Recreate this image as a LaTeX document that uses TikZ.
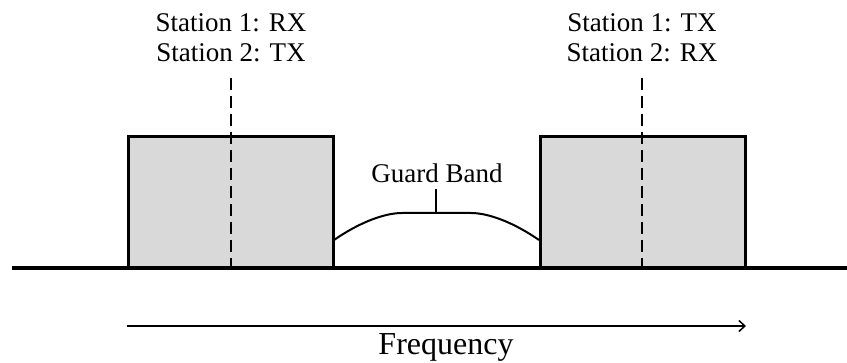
\documentclass[tikz,border=0pt]{standalone}
\usepackage{fontspec}
\setmainfont{Liberation Serif}
\usetikzlibrary{arrows.meta}
\definecolor{bandgray}{HTML}{D9D9D9}
\tikzset{
  band/.style={draw=black, line width=3pt, fill=bandgray},
  centerline/.style={line width=1.5pt, dash pattern=on 12pt off 6pt},
  label/.style={font=\fontsize{27}{30}\selectfont, align=center, inner sep=0pt},
  axis/.style={line width=3.5pt},
}
\begin{document}
\begin{tikzpicture}[x=1pt,y=-1pt]
\useasboundingbox (0,0) rectangle (847,363);
% bands
\draw[band] (128,137) rectangle (333,268);
\draw[band] (540,137) rectangle (745,268);
\coordinate (lb) at (231,268);
\coordinate (rb) at (642,268);
\coordinate (lt) at (231,78);
\coordinate (rt) at (642,78);
\draw[centerline] (lt) -- (lb);
\draw[centerline] (rt) -- (rb);
% labels
\node[label, anchor=base] (l1) at (231,32) {Station 1: RX};
\node[label, anchor=base] (l2) at (231,62) {Station 2: TX};
\node[label, anchor=base] (r1) at (642,32) {Station 1: TX};
\node[label, anchor=base] (r2) at (642,62) {Station 2: RX};
% guard band
\coordinate (gl) at (334,240);
\coordinate (gr) at (539,240);
\coordinate (ga) at (402,213);
\coordinate (gb) at (471,213);
\coordinate (gt) at (436,213);
\coordinate (gtop) at (436,189);
\draw[line width=2pt] (gl) .. controls (360,222) and (385,213) .. (ga) -- (gb) .. controls (488,213) and (513,222) .. (gr);
\node[label, anchor=base] (gband) at (437,183) {Guard Band};
\draw[line width=2pt] (gt) -- (gtop);
% axis
\coordinate (a0) at (12,268);
\coordinate (a1) at (847,268);
\draw[axis] (a0) -- (a1);
% frequency arrow
\coordinate (f0) at (127,326);
\coordinate (f1) at (746,326);
\draw[line width=1.5pt, -{Straight Barb[length=6pt,width=11pt,line width=1.5pt]}] (f0) -- (f1);
\node[label, font=\fontsize{32}{34}\selectfont, anchor=base] (freq) at (446,355) {Frequency};
\end{tikzpicture}
\end{document}
